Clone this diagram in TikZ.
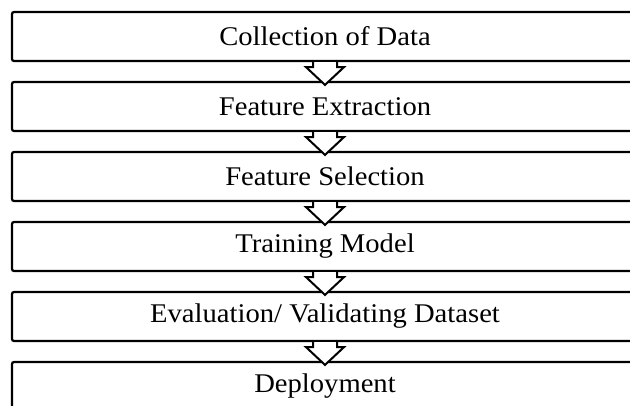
\documentclass[tikz,border=0pt]{standalone}
\usepackage{fontspec}
\setmainfont[FakeStretch=1.06]{Liberation Serif}
\usetikzlibrary{calc}

\tikzset{
  stagebox/.style={draw=black, fill=white, line width=2.2pt, rounded corners=2pt,
    minimum width=626pt, minimum height=49pt, inner sep=0pt,
    font=\fontsize{27}{30}\selectfont},
  flowarrow/.style={draw=black, fill=white, line width=2pt, line join=miter}
}

\begin{document}
\begin{tikzpicture}[x=1pt,y=1pt]
\clip (0,0) rectangle (630,-405);
\node [stagebox] (collect) at (325,-36.5) {Collection of Data};
\node [stagebox] (extract) at (325,-106.5) {Feature Extraction};
\node [stagebox] (select) at (325,-176.5) {Feature Selection};
\node [stagebox] (train) at (325,-246.5) {Training Model};
\node [stagebox] (evaluate) at (325,-316.5) {Evaluation/ Validating Dataset};
\node [stagebox] (deploy) at (325,-386.5) {Deployment};
% block arrows between the stages
\draw [flowarrow] ($(collect.south)+(-12,0)$) -- ++(0,-5) -- ++(-7,0) -- ($(extract.north)+(0,-4)$) -- ($(collect.south)+(19,-5)$) -- ++(-7,0) -- ++(0,5);
\draw [flowarrow] ($(extract.south)+(-12,0)$) -- ++(0,-5) -- ++(-7,0) -- ($(select.north)+(0,-4)$) -- ($(extract.south)+(19,-5)$) -- ++(-7,0) -- ++(0,5);
\draw [flowarrow] ($(select.south)+(-12,0)$) -- ++(0,-5) -- ++(-7,0) -- ($(train.north)+(0,-4)$) -- ($(select.south)+(19,-5)$) -- ++(-7,0) -- ++(0,5);
\draw [flowarrow] ($(train.south)+(-12,0)$) -- ++(0,-5) -- ++(-7,0) -- ($(evaluate.north)+(0,-4)$) -- ($(train.south)+(19,-5)$) -- ++(-7,0) -- ++(0,5);
\draw [flowarrow] ($(evaluate.south)+(-12,0)$) -- ++(0,-5) -- ++(-7,0) -- ($(deploy.north)+(0,-4)$) -- ($(evaluate.south)+(19,-5)$) -- ++(-7,0) -- ++(0,5);
\end{tikzpicture}
\end{document}
